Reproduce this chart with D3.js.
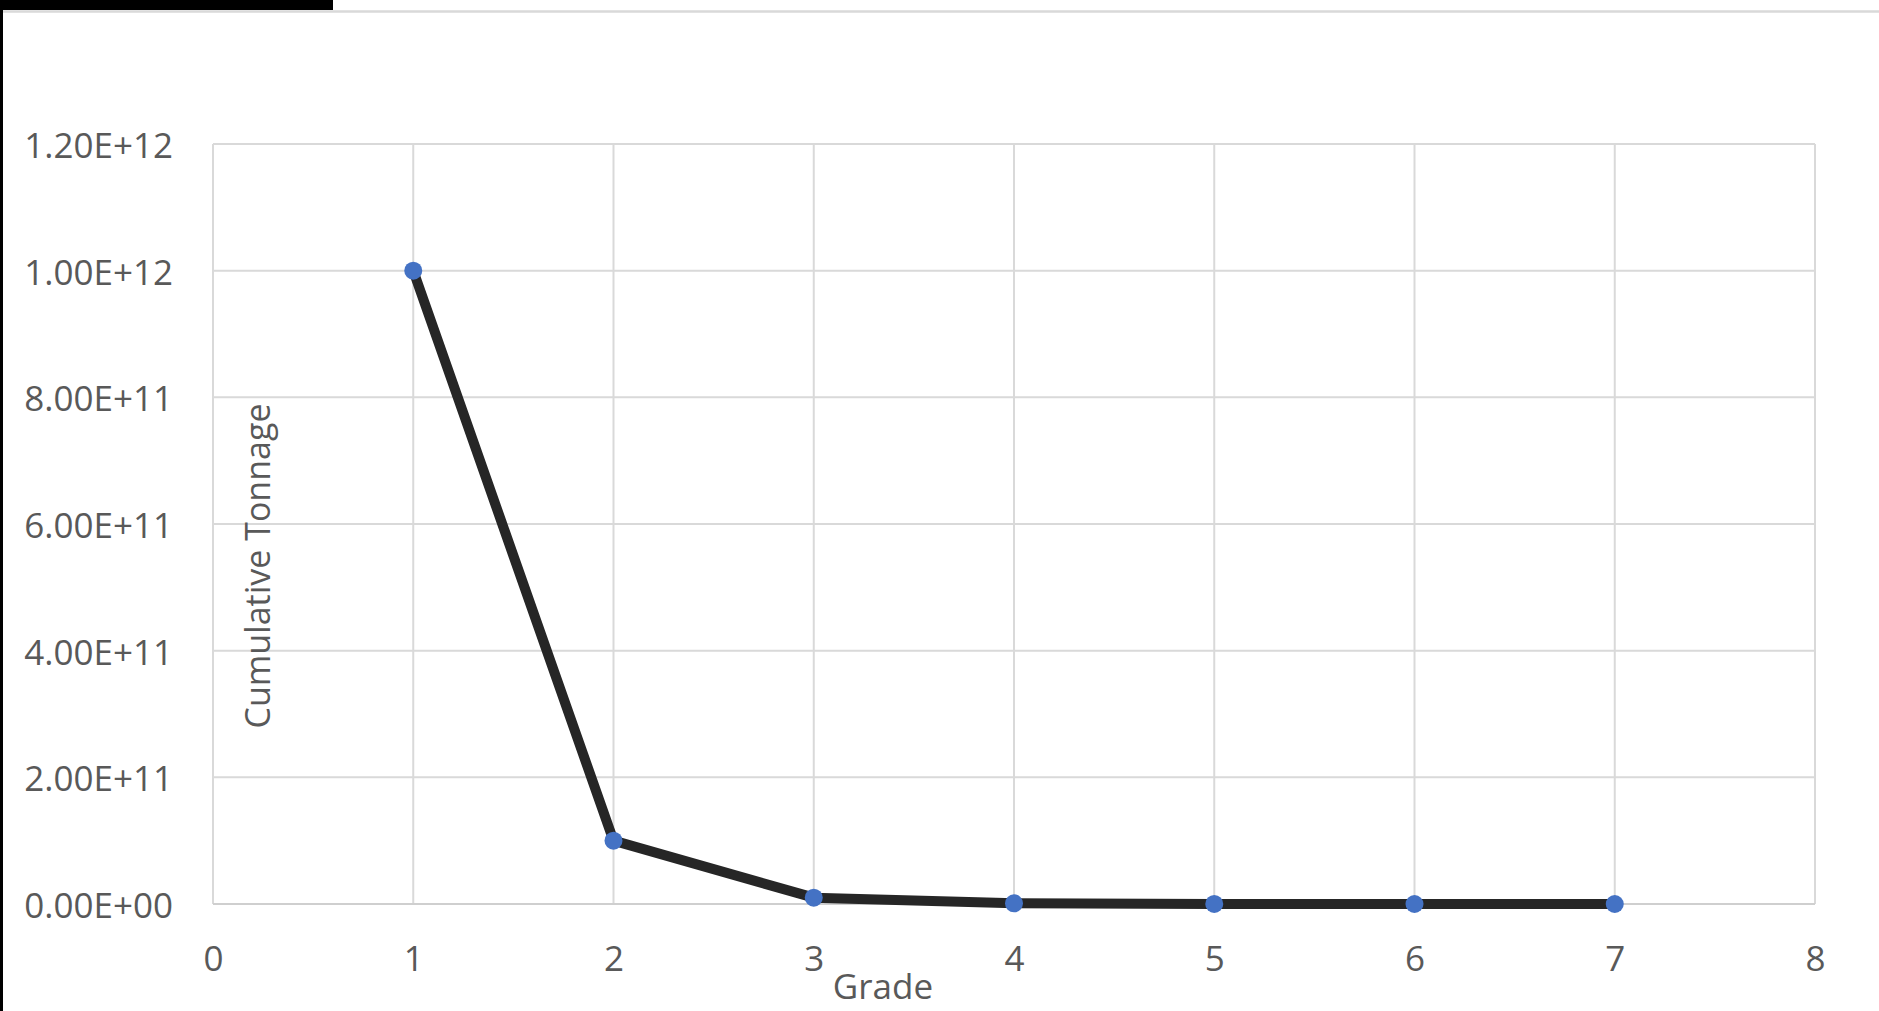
<!DOCTYPE html>
<html>
<head>
<meta charset="utf-8">
<script src="https://cdn.jsdelivr.net/npm/d3@7"></script>
<style>
  html, body { margin: 0; padding: 0; background: #ffffff; }
  svg { display: block; }
</style>
</head>
<body>
<svg id="chart" width="1879" height="1011"></svg>
<script>
// Cumulative tonnage by grade
const grades = [1, 2, 3, 4, 5, 6, 7];
const tonnage = [1.0e12, 1.0e11, 1.0e10, 1.0e9, 1.0e8, 1.0e7, 1.0e6];
const xTicks = [0, 1, 2, 3, 4, 5, 6, 7, 8];
const yTicks = [0, 2e11, 4e11, 6e11, 8e11, 1e12, 1.2e12];
const yTickLabels = ["0.00E+00", "2.00E+11", "4.00E+11", "6.00E+11", "8.00E+11", "1.00E+12", "1.20E+12"];

const W = 1879, H = 1011;
const plot = { left: 213, right: 1815, top: 144, bottom: 904 };
const font = "'Open Sans', 'Noto Sans', sans-serif";
const textColor = "#595959";
const gridColor = "#d9d9d9";

const svg = d3.select("#chart");

// frame decorations around the chart area
svg.append("rect").attr("x", 0).attr("y", 0).attr("width", W).attr("height", H).attr("fill", "#ffffff");
svg.append("rect").attr("x", 0).attr("y", 0).attr("width", 333).attr("height", 10).attr("fill", "#000000");
svg.append("rect").attr("x", 0).attr("y", 0).attr("width", 3).attr("height", H).attr("fill", "#000000");
svg.append("line").attr("x1", 3).attr("x2", W).attr("y1", 11.5).attr("y2", 11.5)
  .attr("stroke", gridColor).attr("stroke-width", 2.5);

const x = d3.scaleLinear().domain([0, 8]).range([plot.left, plot.right]);
const y = d3.scaleLinear().domain([0, 1.2e12]).range([plot.bottom, plot.top]);

// gridlines
const grid = svg.append("g");
grid.selectAll("line.v").data(xTicks).join("line")
  .attr("x1", d => x(d)).attr("x2", d => x(d))
  .attr("y1", plot.top).attr("y2", plot.bottom)
  .attr("stroke", gridColor).attr("stroke-width", 2);
grid.selectAll("line.h").data(yTicks).join("line")
  .attr("x1", plot.left).attr("x2", plot.right)
  .attr("y1", d => y(d)).attr("y2", d => y(d))
  .attr("stroke", d => d === 0 ? "#cfcfcf" : gridColor).attr("stroke-width", 2);

// axes (labels only, via d3 axis generators)
const xAxis = d3.axisBottom(x).tickValues(xTicks).tickSize(0).tickPadding(0).tickFormat(d3.format("d"));
const gx = svg.append("g").attr("transform", `translate(0,${plot.bottom})`).call(xAxis);
gx.select(".domain").remove();
gx.selectAll("text").attr("font-family", font).attr("font-size", 35).attr("fill", textColor)
  .attr("dy", null).attr("y", 53).attr("dominant-baseline", "central");

const yAxis = d3.axisLeft(y).tickValues(yTicks).tickSize(0).tickPadding(0)
  .tickFormat((d, i) => yTickLabels[i]);
const gy = svg.append("g").attr("transform", `translate(173,0)`).call(yAxis);
gy.select(".domain").remove();
gy.selectAll("text").attr("font-family", font).attr("font-size", 35).attr("fill", textColor)
  .attr("dy", null).attr("x", 0).attr("dominant-baseline", "central").attr("text-anchor", "end");

// axis titles
svg.append("text").attr("x", 883).attr("y", 985)
  .attr("text-anchor", "middle").attr("dominant-baseline", "central")
  .attr("font-family", font).attr("font-size", 35).attr("fill", textColor)
  .text("Grade");
svg.append("text").attr("transform", "translate(257,566) rotate(-90)")
  .attr("text-anchor", "middle").attr("dominant-baseline", "central")
  .attr("font-family", font).attr("font-size", 34).attr("fill", textColor)
  .text("Cumulative Tonnage");

// series line and markers
const pts = grades.map((g, i) => [g, tonnage[i]]);
const line = d3.line().x(d => x(d[0])).y(d => y(d[1]));
svg.append("path").datum(pts).attr("d", line)
  .attr("fill", "none").attr("stroke", "#262626").attr("stroke-width", 10)
  .attr("stroke-linejoin", "round").attr("stroke-linecap", "butt");
svg.append("g").selectAll("circle").data(pts).join("circle")
  .attr("cx", d => x(d[0])).attr("cy", d => y(d[1])).attr("r", 9)
  .attr("fill", "#4472c4");
</script>
</body>
</html>
